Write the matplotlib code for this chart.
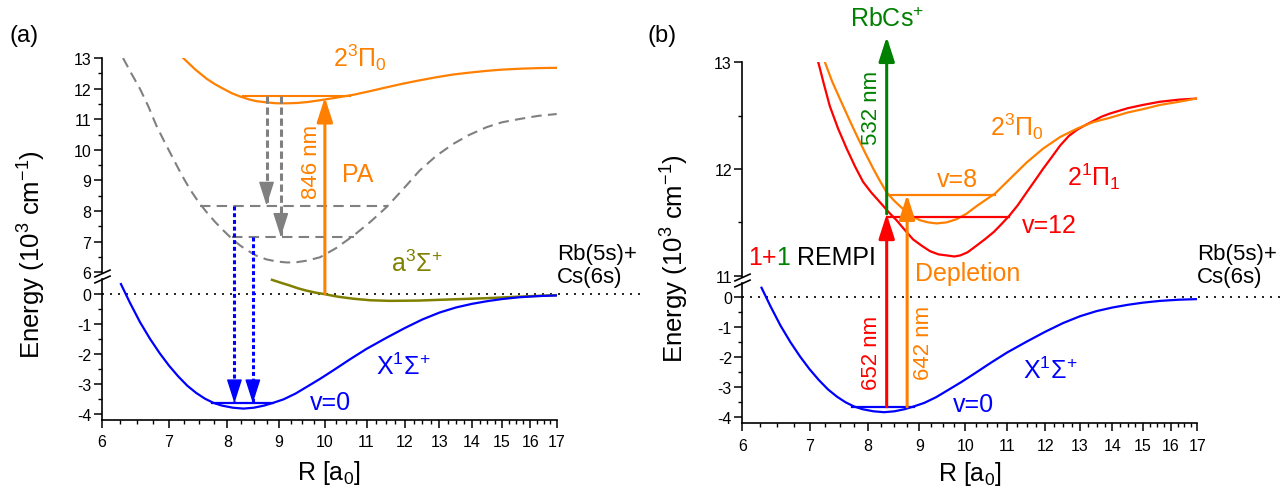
import numpy as np
import matplotlib.pyplot as plt
from matplotlib.patches import ArrowStyle
from matplotlib.ticker import NullFormatter

plt.rcParams['font.family'] = ['Liberation Sans', 'DejaVu Sans']
plt.rcParams['mathtext.fontset'] = 'custom'
plt.rcParams['mathtext.rm'] = 'Liberation Sans'
plt.rcParams['mathtext.it'] = 'Liberation Sans:italic'
plt.rcParams['mathtext.bf'] = 'Liberation Sans:bold'
plt.rcParams['axes.unicode_minus'] = False

ORANGE = '#FF8000'
RED = '#FF0000'
GREEN = '#008000'
BLUE = '#0000FF'
OLIVE = '#808000'
GRAY = '#808080'

# ---- data (R in a0, energy in 10^3 cm^-1) ----
# X1Sigma+ ground state (same in both panels)
x_R = [6.27, 6.4, 6.55, 6.7, 6.85, 7.0, 7.15, 7.3, 7.45, 7.6, 7.75, 7.9, 8.1,
       8.3, 8.5, 8.7, 8.88, 9.1, 9.35, 9.6, 9.9, 10.2, 10.6, 11.0, 11.5, 12.0,
       12.5, 13.0, 13.5, 14.0, 14.5, 15.0, 15.6, 16.3, 17.0]
x_E = [0.32, -0.3, -0.95, -1.5, -1.98, -2.4, -2.76, -3.07, -3.31, -3.5, -3.64,
       -3.73, -3.8, -3.83, -3.8, -3.73, -3.64, -3.52, -3.33, -3.1, -2.83, -2.55,
       -2.18, -1.84, -1.48, -1.15, -0.86, -0.63, -0.46, -0.34, -0.25, -0.18,
       -0.12, -0.08, -0.06]

# a3Sigma+ triplet state (panel a)
a_R = [8.86, 9.05, 9.23, 9.4, 9.59, 9.8, 9.97, 10.3, 10.68, 11.1, 11.6, 12.4,
       13.4, 14.5, 15.6, 17.0]
a_E = [0.46, 0.36, 0.27, 0.18, 0.10, 0.03, -0.01, -0.10, -0.17, -0.22, -0.24,
       -0.23, -0.19, -0.15, -0.10, -0.05]

# dashed gray potential (panel a, upper part)
g_R = [6.30, 6.42, 6.55, 6.68, 6.80, 6.93, 7.07, 7.2, 7.34, 7.48, 7.63, 7.78,
       7.93, 8.08, 8.24, 8.4, 8.55, 8.75, 8.96, 9.17, 9.38, 9.6, 9.89, 10.25,
       10.68, 11.1, 11.51, 11.95, 12.42, 12.9, 13.41, 13.9, 14.48, 15.0, 15.63,
       16.3, 17.0]
g_E = [13.0, 12.5, 11.99, 11.4, 10.79, 10.25, 9.70, 9.2, 8.72, 8.32, 7.96,
       7.64, 7.36, 7.1, 6.87, 6.69, 6.54, 6.42, 6.35, 6.32, 6.33, 6.38, 6.49,
       6.78, 7.2, 7.65, 8.12, 8.7, 9.32, 9.8, 10.19, 10.48, 10.74, 10.9, 11.01,
       11.11, 11.17]

# 2(3)Pi0 in panel a
pa_R = [7.23, 7.43, 7.63, 7.78, 7.93, 8.08, 8.24, 8.4, 8.55, 8.75, 8.96, 9.17,
        9.38, 9.6, 9.89, 10.25, 10.68, 11.1, 11.51, 11.95, 12.42, 12.9, 13.41,
        13.9, 14.48, 15.0, 15.63, 16.3, 17.0]
pa_E = [13.0, 12.63, 12.32, 12.14, 11.99, 11.85, 11.74, 11.65, 11.59, 11.55,
        11.52, 11.52, 11.53, 11.56, 11.62, 11.7, 11.8, 11.92, 12.04, 12.16,
        12.27, 12.37, 12.46, 12.52, 12.58, 12.62, 12.65, 12.67, 12.68]

# 2(3)Pi0 in panel b
pb_R = [7.25, 7.37, 7.5, 7.65, 7.8, 7.95, 8.1, 8.22, 8.35, 8.5, 8.68, 8.85, 9.01,
        9.18, 9.36, 9.58, 9.8, 10.02, 10.25, 10.47, 10.7, 11.05, 11.5, 11.94,
        12.42, 12.92, 13.4, 13.92, 14.5, 15.0, 15.6, 16.3, 16.96]
pb_E = [13.0, 12.82, 12.66, 12.48, 12.31, 12.15, 12.0, 11.89, 11.78, 11.7,
        11.62, 11.56, 11.52, 11.5, 11.49, 11.5, 11.53, 11.58, 11.65, 11.71,
        11.77, 11.9, 12.06, 12.19, 12.3, 12.38, 12.44, 12.48, 12.53, 12.56,
        12.6, 12.63, 12.66]

# 2(1)Pi1 in panel b
r_R = [7.14, 7.23, 7.33, 7.47, 7.62, 7.77, 7.91, 8.06, 8.22, 8.38, 8.54, 8.7,
       8.87, 9.05, 9.22, 9.4, 9.58, 9.75, 9.88, 10.05, 10.25, 10.45, 10.67,
       10.85, 11.05, 11.27, 11.5, 11.72, 11.94, 12.18, 12.42, 12.67, 12.92,
       13.15, 13.4, 13.65, 13.92, 14.5, 15.0, 15.6, 16.3, 16.96]
r_E = [13.0, 12.8, 12.59, 12.38, 12.19, 12.02, 11.88, 11.78, 11.69, 11.6,
       11.52, 11.43, 11.34, 11.28, 11.23, 11.2, 11.19, 11.18, 11.19, 11.22,
       11.28, 11.34, 11.41, 11.48, 11.56, 11.66, 11.78, 11.89, 12.0, 12.11,
       12.22, 12.31, 12.37, 12.41, 12.45, 12.49, 12.52, 12.57, 12.6, 12.63,
       12.65, 12.66]

r_ticks = list(range(6, 18))
r_minor = [v for v in np.arange(6, 17.01, 0.25) if v % 1]

# broken energy axis: lower part up to `lo`, upper part from `hi`
def piecewise(lo, hi, y_hi, slope):
    def fwd(e):
        e = np.asarray(e, dtype=float)
        mid = lo + (e - lo) * (y_hi - lo) / (hi - lo)
        return np.where(e <= lo, e, np.where(e >= hi, y_hi + (e - hi) * slope, mid))

    def inv(y):
        y = np.asarray(y, dtype=float)
        mid = lo + (y - lo) * (hi - lo) / (y_hi - lo)
        return np.where(y <= lo, y, np.where(y >= y_hi, hi + (y - y_hi) / slope, mid))
    return fwd, inv


W, H = 1281, 489
fig = plt.figure(figsize=(W / 100, H / 100), dpi=100)


def px_axes(left, top, right, bottom):
    return fig.add_axes([left / W, 1 - bottom / H, (right - left) / W, (bottom - top) / H])


HEAD = ArrowStyle('-|>', head_length=15, head_width=4.8)


def setup(ax, fwd, inv, major, minor):
    ax.set_xscale('log')
    ax.set_yscale('function', functions=(fwd, inv))
    ax.set_xlim(6, 17)
    ax.set_ylim(-4.2, 13)
    for s in ['top', 'right', 'left']:
        ax.spines[s].set_visible(False)
    ax.spines['bottom'].set_linewidth(1.2)
    ax.set_xticks(r_ticks)
    ax.set_xticklabels([str(t) for t in r_ticks])
    ax.set_xticks(r_minor, minor=True)
    ax.xaxis.set_minor_formatter(NullFormatter())
    ax.set_yticks(major)
    ax.set_yticklabels([str(t) for t in major])
    ax.set_yticks(minor, minor=True)
    ax.yaxis.set_minor_formatter(NullFormatter())
    ax.tick_params(which='major', length=6, width=1.1)
    ax.tick_params(which='minor', length=3.2, width=1.0)
    ax.tick_params(axis='x', pad=4.5)
    ax.tick_params(axis='y', pad=1.5)
    for lab in ax.get_xticklabels() + ax.get_yticklabels():
        lab.set_family(['Liberation Sans Narrow', 'Liberation Sans'])
        lab.set_size(11.5)
    trans = ax.get_yaxis_transform()
    e_up, e_lo = float(inv(0.69)), float(inv(0.49))
    ax.plot([0, 0], [-4.2, e_lo], transform=trans, color='k', lw=1.2, clip_on=False)
    ax.plot([0, 0], [e_up, 13], transform=trans, color='k', lw=1.2, clip_on=False)
    ax.plot([0, 0], [e_up, e_lo], transform=trans, ls='none', color='k',
            marker=[(-1, -0.45), (1, 0.45)], ms=12, mew=1.2, clip_on=False)
    ax.plot([0, 1.183], [0, 0], transform=trans, color='k', lw=1.2,
            ls=(0, (1.2, 3.6)), clip_on=False)


def arrow(ax, r, e0, e1, color, lw=2.2):
    ax.annotate('', xy=(r, e1), xytext=(r, e0), annotation_clip=False,
                arrowprops=dict(arrowstyle=HEAD, mutation_scale=1, lw=lw, color=color,
                                shrinkA=0, shrinkB=0))


def dashed_arrow(ax, r, e0, e1, color, ls):
    ax.plot([r, r], [e0, e1], color=color, lw=2.2, ls=ls)
    ax.annotate('', xy=(r, e1), xytext=(0, 16), textcoords='offset points',
                arrowprops=dict(arrowstyle=HEAD, mutation_scale=1, lw=1, color=color,
                                shrinkA=0, shrinkB=0))


# ---------------- panel (a) ----------------
fa, ia = piecewise(0.5, 6.0, 0.713, 1.02)
axA = px_axes(101.7, 59, 556.7, 420.7)
setup(axA, fa, ia, [-4, -3, -2, -1, 0] + list(range(6, 14)),
      [-3.5, -2.5, -1.5, -0.5] + [6.5 + i for i in range(7)])

axA.plot(g_R, g_E, color=GRAY, lw=1.5, ls=(0, (5, 3)))
axA.plot([7.51, 11.55], [8.18, 8.18], color=GRAY, lw=1.5, ls=(0, (5, 3)))
axA.plot([8.08, 10.70], [7.16, 7.16], color=GRAY, lw=1.5, ls=(0, (5, 3)))
axA.plot(pa_R, pa_E, color=ORANGE, lw=1.6)
axA.plot([8.3, 10.6], [11.75, 11.75], color=ORANGE, lw=1.5)
axA.plot(a_R, a_E, color=OLIVE, lw=1.8)
axA.plot(x_R, x_E, color=BLUE, lw=1.6)
axA.plot([7.72, 8.88], [-3.65, -3.65], color=BLUE, lw=1.6)

dashed_arrow(axA, 8.75, 11.75, 8.18, GRAY, (0, (2.4, 1.2)))
dashed_arrow(axA, 9.04, 11.75, 7.16, GRAY, (0, (2.4, 1.2)))
dashed_arrow(axA, 8.13, 8.18, -3.65, BLUE, (0, (1.3, 0.9)))
dashed_arrow(axA, 8.48, 7.16, -3.65, BLUE, (0, (1.3, 0.9)))
arrow(axA, 10.0, 0.0, 11.72, ORANGE)

axA.text(10.18, 13.05, r'2$^3\Pi_0$', color=ORANGE, size=18, ha='left', va='center')
axA.text(9.69, 9.64, '846 nm', color=ORANGE, size=16, rotation=90, ha='center', va='center')
axA.text(10.78, 9.21, 'PA', color=ORANGE, size=18, ha='center', va='center')
axA.text(12.35, 6.3, r'a$^3\Sigma^{+}$', color=OLIVE, size=18, ha='center', va='center')
axA.text(17.0, 6.24, 'Rb(5s)+\nCs(6s)', size=16, ha='left', va='center', linespacing=1.1)
axA.text(11.23, -2.39, r'X$^1\Sigma^{+}$', color=BLUE, size=18, ha='left', va='center')
axA.text(9.67, -3.6, 'v=0', color=BLUE, size=18, ha='left', va='center')

# ---------------- panel (b) ----------------
fb, ib = piecewise(0.5, 11.0, 0.72, 3.557)
axB = px_axes(742.3, 63.3, 1197.3, 424.3)
setup(axB, fb, ib, [-4, -3, -2, -1, 0, 11, 12, 13],
      [-3.5, -2.5, -1.5, -0.5, 11.5, 12.5])

axB.plot(r_R, r_E, color=RED, lw=1.6)
axB.plot(pb_R, pb_E, color=ORANGE, lw=1.6)
axB.plot([8.35, 10.7], [11.76, 11.76], color=ORANGE, lw=1.6)
axB.plot([8.35, 11.05], [11.55, 11.55], color=RED, lw=1.6)
axB.plot(x_R, x_E, color=BLUE, lw=1.6)
axB.plot([7.72, 8.88], [-3.65, -3.65], color=BLUE, lw=1.6)

arrow(axB, 8.35, 11.58, 13.24, GREEN)
arrow(axB, 8.35, -3.65, 11.58, RED)
arrow(axB, 8.75, -3.65, 11.76, ORANGE)

axB.text(8.35, 13.41, r'RbCs$^{+}$', color=GREEN, size=18, ha='center', va='center')
axB.text(8.07, 12.58, '532 nm', color=GREEN, size=16, rotation=90, ha='center', va='center')
axB.text(10.58, 12.41, r'2$^3\Pi_0$', color=ORANGE, size=18, ha='left', va='center')
axB.text(12.63, 11.94, r'2$^1\Pi_1$', color=RED, size=18, ha='left', va='center')
axB.text(9.36, 11.91, 'v=8', color=ORANGE, size=18, ha='left', va='center')
axB.text(11.38, 11.475, 'v=12', color=RED, size=18, ha='left', va='center')
t1 = axB.text(6.08, 11.175, '1+', color=RED, size=18, ha='left', va='center')
t2 = axB.annotate('1', xy=(1, 0.5), xycoords=t1, color=GREEN, size=18, ha='left', va='center')
axB.annotate(' REMPI', xy=(1, 0.5), xycoords=t2, color='k', size=18, ha='left', va='center')
axB.text(8.91, 11.03, 'Depletion', color=ORANGE, size=18, ha='left', va='center')
axB.text(8.07, -1.82, '652 nm', color=RED, size=16, rotation=90, ha='center', va='center')
axB.text(9.08, -1.5, '642 nm', color=ORANGE, size=16, rotation=90, ha='center', va='center')
axB.text(11.41, -2.42, r'X$^1\Sigma^{+}$', color=BLUE, size=18, ha='left', va='center')
axB.text(9.72, -3.56, 'v=0', color=BLUE, size=18, ha='left', va='center')
axB.text(17.0, 11.1, 'Rb(5s)+\nCs(6s)', size=16, ha='left', va='center', linespacing=1.1)

# panel letters and axis titles
fig.text(24 / W, 1 - 36 / H, '(a)', size=17, ha='center', va='center')
fig.text(662 / W, 1 - 36 / H, '(b)', size=17, ha='center', va='center')
ylab = r'Energy (10$^3$ cm$^{-1}$)'
fig.text(32 / W, 1 - 255 / H, ylab, size=18.5, rotation=90, ha='center', va='center')
fig.text(675 / W, 1 - 259 / H, ylab, size=18.5, rotation=90, ha='center', va='center')
fig.text(329 / W, 1 - 480 / H, r'R [a$_0$]', size=18, ha='center', va='baseline')
fig.text(970 / W, 1 - 481 / H, r'R [a$_0$]', size=18, ha='center', va='baseline')

fig.savefig('out.png', dpi=100)
